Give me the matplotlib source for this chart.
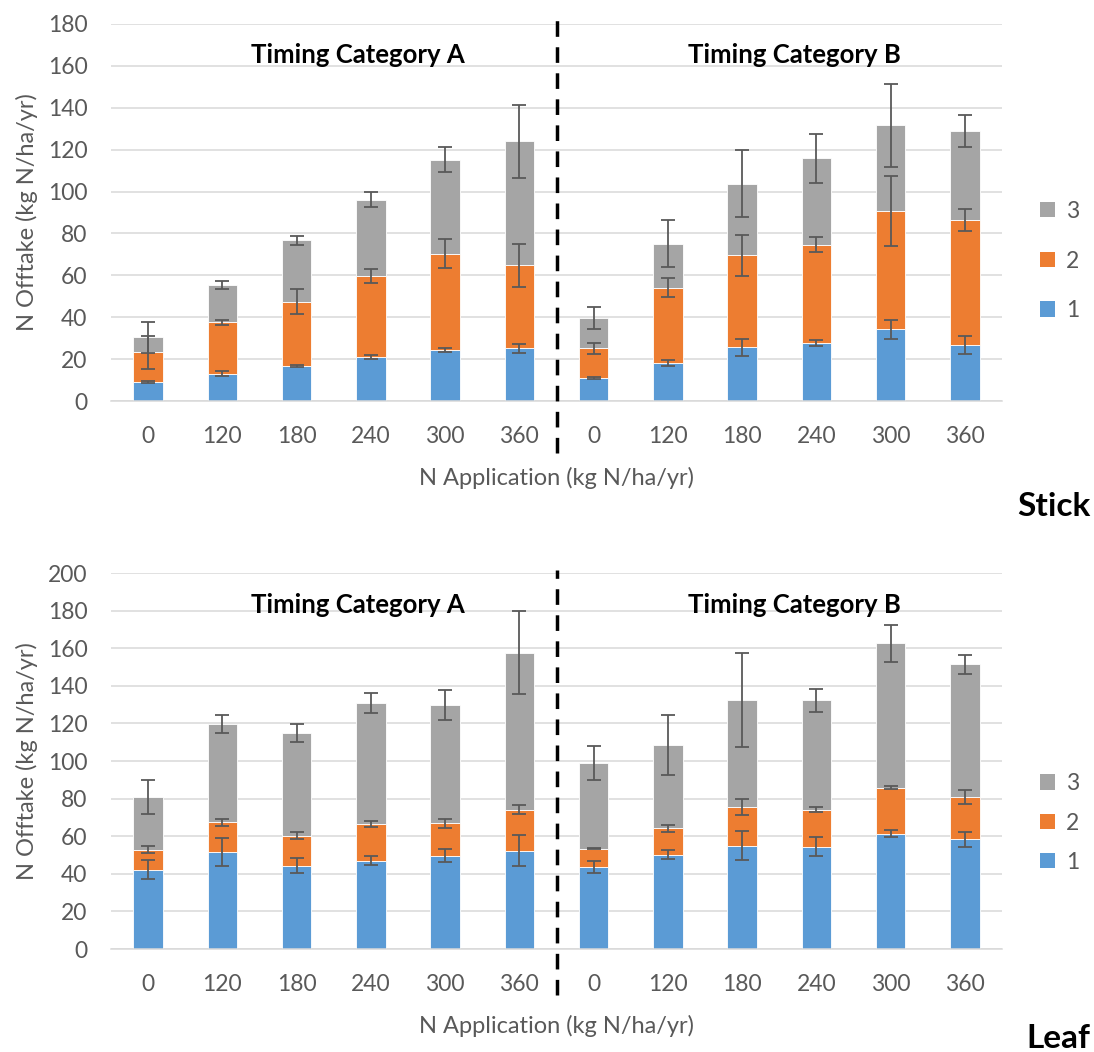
import numpy as np
import matplotlib
matplotlib.use("Agg")
import matplotlib.pyplot as plt
from matplotlib.patches import Patch

plt.rcParams['font.family'] = ['Lato', 'DejaVu Sans']

# x categories (timing A then timing B)
n_rates = ["0", "120", "180", "240", "300", "360", "0", "120", "180", "240", "300", "360"]
series_names = ["1", "2", "3"]
colors = ["#5B9BD5", "#ED7D31", "#A5A5A5"]

# stick offtake per component
stick_1 = [9.1, 13.1, 16.8, 21.1, 24.3, 25.2, 10.9, 18.1, 25.6, 27.6, 34.2, 26.8]
stick_2 = [14.1, 24.4, 30.6, 38.6, 46.0, 39.5, 14.3, 35.9, 44.0, 47.0, 56.5, 59.6]
stick_3 = [7.2, 17.9, 29.3, 36.5, 44.9, 59.4, 14.4, 21.1, 34.2, 41.2, 40.9, 42.5]
stick_err_1 = [0.5, 1.1, 0.6, 1.1, 1.0, 2.2, 0.5, 1.6, 4.1, 1.3, 4.4, 4.4]
stick_err_2 = [7.7, 1.0, 6.1, 3.4, 6.9, 10.4, 2.6, 4.5, 9.7, 3.5, 16.8, 5.3]
stick_err_3 = [7.5, 1.8, 2.1, 3.5, 6.0, 17.4, 5.4, 11.3, 16.0, 11.5, 19.8, 7.7]

# leaf offtake per component
leaf_1 = [42.2, 51.8, 44.4, 47.0, 49.7, 52.2, 43.7, 50.2, 55.0, 54.5, 61.4, 58.4]
leaf_2 = [10.7, 15.5, 15.9, 19.5, 17.2, 22.0, 9.7, 13.9, 20.6, 19.7, 24.5, 22.5]
leaf_3 = [27.8, 52.5, 54.5, 64.3, 62.8, 83.4, 45.6, 44.3, 56.8, 58.0, 76.7, 70.5]
leaf_err_1 = [5.1, 7.4, 3.8, 2.4, 3.4, 8.2, 3.3, 2.5, 7.9, 4.9, 1.9, 4.0]
leaf_err_2 = [2.1, 1.7, 1.9, 1.7, 2.5, 2.2, 0.4, 2.1, 4.3, 1.3, 1.0, 3.6]
leaf_err_3 = [9.0, 4.9, 4.9, 5.4, 8.0, 22.0, 9.0, 16.0, 25.0, 6.2, 9.7, 5.2]

W, H = 1094, 1052
fig = plt.figure(figsize=(W / 100, H / 100), dpi=100)

grey_text = "#595959"


def draw_panel(rect, vals, errs, ymax, title_y, line_lims, legend_y, legend_space, tag, tag_y):
    left, top, right, bottom = rect
    ax = fig.add_axes([left / W, 1 - bottom / H, (right - left) / W, (bottom - top) / H])
    x = np.arange(len(n_rates))
    base = np.zeros(len(n_rates))
    handles = []
    for v, e, c, name in zip(vals, errs, colors, series_names):
        v = np.array(v)
        ax.bar(x, v, 0.4, bottom=base, color=c, edgecolor="white", linewidth=0.6, zorder=2)
        base = base + v
        ax.errorbar(x, base, yerr=e, fmt="none", ecolor="#595959", elinewidth=1.3,
                    capsize=5, capthick=1.3, zorder=4)
        handles.append(Patch(facecolor=c, label=name))

    ax.set_xlim(-0.5, len(n_rates) - 0.5)
    ax.set_ylim(0, ymax)
    ax.set_yticks(np.arange(0, ymax + 1, 20))
    ax.set_xticks(x)
    ax.set_xticklabels(n_rates)
    ax.grid(axis="y", color="#D9D9D9", linewidth=1.1, zorder=0)
    ax.set_axisbelow(True)
    for s in ["top", "right", "left"]:
        ax.spines[s].set_visible(False)
    ax.spines["bottom"].set_color("#D9D9D9")
    ax.spines["bottom"].set_linewidth(1.1)
    ax.tick_params(axis="y", length=0, pad=17, labelsize=16.5, labelcolor=grey_text)
    ax.tick_params(axis="x", length=0, pad=18, labelsize=16.5, labelcolor=grey_text)
    ax.set_ylabel("N Offtake (kg N/ha/yr)", fontsize=17, color=grey_text, labelpad=7)
    ax.set_xlabel("N Application (kg N/ha/yr)", fontsize=17, color=grey_text, labelpad=14)

    ax.text(2.83, title_y, "Timing Category A", fontsize=18.5, fontweight="bold",
            ha="center", va="center")
    ax.text(8.71, title_y, "Timing Category B", fontsize=18.5, fontweight="bold",
            ha="center", va="center")

    ax.axvline(5.5, ymin=line_lims[0], ymax=line_lims[1], color="black", linewidth=2.5,
               dashes=(4.5, 3), clip_on=False, zorder=5)

    fig.legend(handles=handles[::-1], loc="center left",
               bbox_to_anchor=(1040 / W, 1 - legend_y / H), frameon=False,
               fontsize=16.5, labelcolor=grey_text, handlelength=0.65, handleheight=0.65,
               handletextpad=0.5, labelspacing=legend_space, borderpad=0, borderaxespad=0)

    fig.text(1090 / W, 1 - tag_y / H, tag, fontsize=24, fontweight="bold",
             ha="right", va="center")
    return ax


draw_panel((111, 24, 1002, 401), [stick_1, stick_2, stick_3],
           [stick_err_1, stick_err_2, stick_err_3], 180, 165, (-0.138, 1.019),
           261, 1.25, "Stick", 506)
draw_panel((111, 573, 1002, 949), [leaf_1, leaf_2, leaf_3],
           [leaf_err_1, leaf_err_2, leaf_err_3], 200, 183, (-0.122, 1.008),
           823, 0.8, "Leaf", 1039)

fig.savefig("out.png", dpi=100)
